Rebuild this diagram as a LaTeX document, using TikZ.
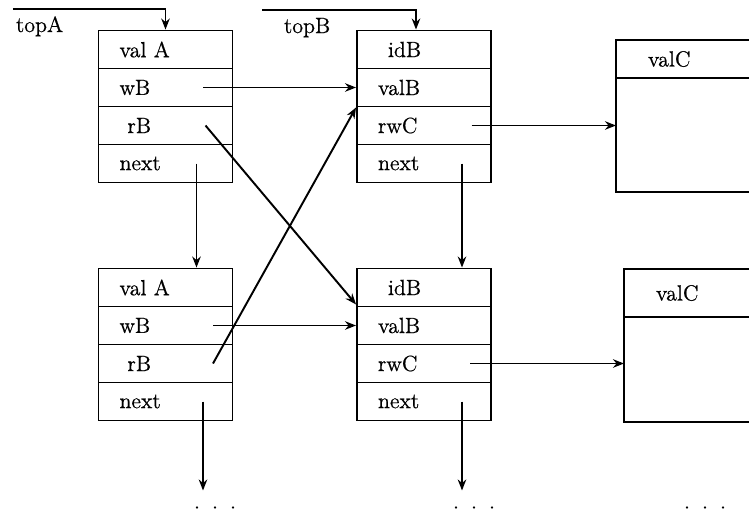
\documentclass[tikz,border=0pt]{standalone}
\usepackage{fontspec}
\usepackage{tikz}
\usetikzlibrary{arrows.meta, positioning}
\newfontfamily\boxfont[FakeBold=0.6]{Latin Modern Roman}
\tikzstyle{field}=[draw, rectangle, minimum height=0.76cm, text width=1.84cm, inner xsep=0.42cm, inner ysep=0pt, align=left]
\tikzstyle{cfield}=[draw, rectangle, minimum height=0.76cm, text width=1.72cm, inner xsep=0.64cm, inner ysep=0pt, outer sep=0pt, align=left]
\tikzstyle{tail}=[inner xsep=0pt, inner ysep=0.3cm]
\tikzstyle{every node}=[font=\boxfont\fontsize{12.5}{15}\selectfont]
\newcommand{\moredots}{.\hspace{0.24cm}.\hspace{0.24cm}.}

\begin{document}
\begin{tikzpicture}[>={Stealth[length=2.2mm,width=1.7mm]}, line width=1.1pt, node distance=0.76cm]
  \useasboundingbox (0,0) rectangle (14.98,-10.24);
  \clip (0,0) rectangle (14.98,-10.24);

  % first row of records
  \node[field] (a1val) at (3.31,-0.99) {val A};
  \node[field, below of=a1val] (a1w) {wB};
  \node[field, below of=a1w] (a1r) {\hspace*{0.16cm}rB};
  \node[field, below of=a1r] (a1next) {next};
  \node[field, right of=a1val, node distance=5.17cm] (b1id) {\hspace*{0.2cm}idB};
  \node[field, below of=b1id] (b1val) {valB};
  \node[field, below of=b1val] (b1rw) {rwC};
  \node[field, below of=b1rw] (b1next) {next};
  \node[cfield, anchor=north west] (c1val) at (12.32,-0.80) {valC};
  \node[cfield, minimum height=2.28cm, below=0pt of c1val] (c1body) {};

  % second row of records
  \node[field, below of=a1next, node distance=2.48cm] (a2val) {val A};
  \node[field, below of=a2val] (a2w) {wB};
  \node[field, below of=a2w] (a2r) {\hspace*{0.16cm}rB};
  \node[field, below of=a2r] (a2next) {next};
  \node[field, below of=b1next, node distance=2.48cm] (b2id) {\hspace*{0.2cm}idB};
  \node[field, below of=b2id] (b2val) {valB};
  \node[field, below of=b2val] (b2rw) {rwC};
  \node[field, below of=b2rw] (b2next) {next};
  \node[cfield, minimum height=0.96cm, anchor=north west] (c2val) at (12.48,-5.38) {valC};
  \node[cfield, minimum height=2.1cm, below=0pt of c2val] (c2body) {};

  % list heads
  \node[anchor=base west, inner sep=0pt] (topA) at (0.30,-0.64) {topA};
  \node[anchor=base west, inner sep=0pt] (topB) at (5.66,-0.66) {topB};
  \coordinate (topAstart) at (0.26,-0.18);
  \coordinate (topBstart) at (5.24,-0.20);
  \draw[->] (topAstart) -| (a1val.north);
  \draw[->] (topBstart) -| ([xshift=-0.16cm]b1id.north);

  % continuation marks
  \node[tail] (a3) at (4.30,-10.15) {\moredots};
  \node[tail] (b3) at (9.48,-10.15) {\moredots};
  \node[tail] (c3) at (14.10,-10.15) {\moredots};

  % pointers between records
  \draw[->] ([xshift=0.75cm]a1w.center) -- (b1val.west);
  \draw[->] ([xshift=0.8cm]a1r.center) -- ([yshift=0.06cm]b2id.south west);
  \draw[->] ([xshift=0.95cm]a2w.center) -- (b2val.west);
  \draw[->] ([xshift=0.95cm]a2r.center) -- (b1val.south west);
  \draw[->] ([xshift=0.95cm]b1rw.center) -- (c1body.west |- b1rw.center);
  \draw[->] ([xshift=0.92cm]b2rw.center) -- (c2body.west |- b2rw.center);

  % next links
  \draw[->] ([xshift=0.62cm]a1next.center) -- ([xshift=0.62cm]a2val.north);
  \draw[->] ([xshift=0.76cm]b1next.center) -- ([xshift=0.76cm]b2id.north);
  \coordinate (a2down) at ([xshift=0.75cm]a2next.center);
  \coordinate (b2down) at ([xshift=0.76cm]b2next.center);
  \draw[->] (a2down) -- (a2down |- a3.north);
  \draw[->] (b2down) -- (b2down |- b3.north);
\end{tikzpicture}
\end{document}
